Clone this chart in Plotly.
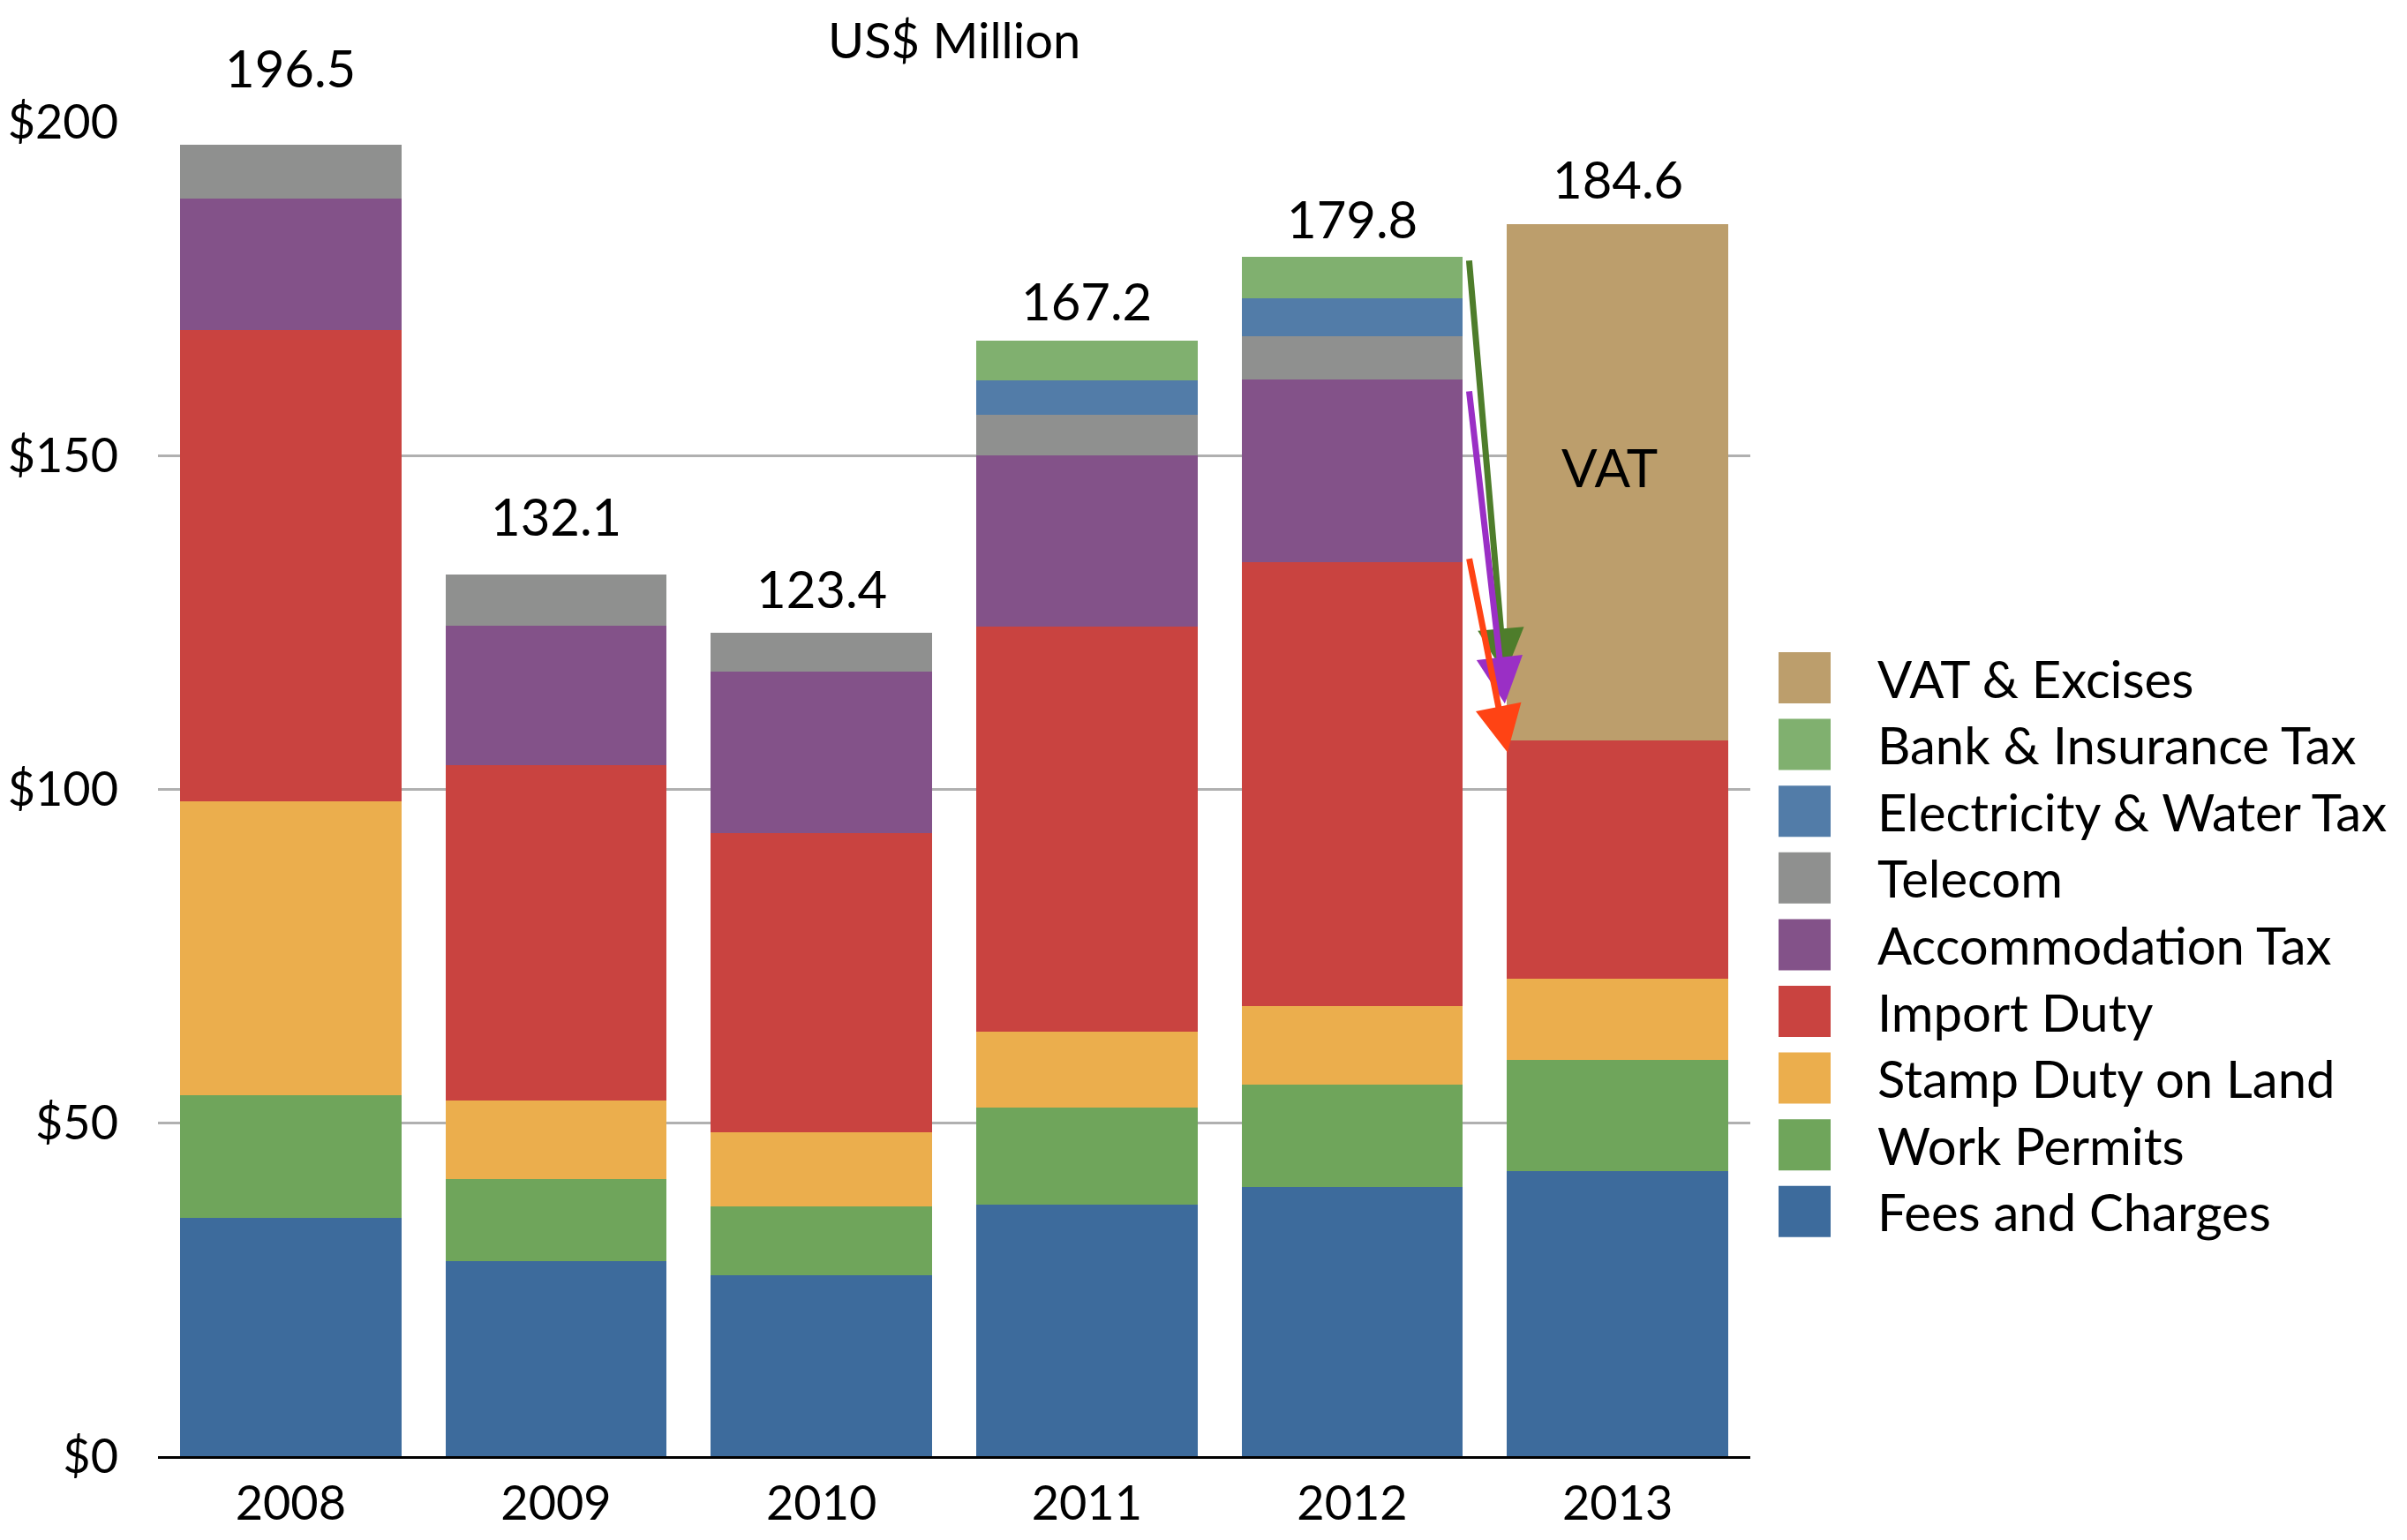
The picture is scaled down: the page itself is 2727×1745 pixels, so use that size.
import plotly.graph_objects as go

# ---------------- data ----------------
years = ["2008", "2009", "2010", "2011", "2012", "2013"]

fees_and_charges = [35.7, 29.2, 27.1, 37.7, 40.3, 42.7]
work_permits     = [18.4, 12.4, 10.3, 14.5, 15.4, 16.7]
stamp_duty_land  = [44.0, 11.7, 11.1, 11.4, 11.8, 12.2]
import_duty      = [70.7, 50.3, 44.9, 60.7, 66.5, 35.7]
accommodation    = [19.7, 20.9, 24.2, 25.7, 27.4, 0]
telecom          = [8.0, 7.6, 5.8, 6.1, 6.5, 0]
electricity_water = [0, 0, 0, 5.2, 5.7, 0]
bank_insurance   = [0, 0, 0, 5.9, 6.2, 0]
vat_excises      = [0, 0, 0, 0, 0, 77.3]

total_labels = ["196.5", "132.1", "123.4", "167.2", "179.8", "184.6"]

y_tick_values = [0, 50, 100, 150, 200]
y_tick_labels = ["$0", "$50", "$100", "$150", "$200"]

# stack order bottom -> top
series_names = ["Fees and Charges", "Work Permits", "Stamp Duty on Land", "Import Duty",
                "Accommodation Tax", "Telecom", "Electricity & Water Tax",
                "Bank & Insurance Tax", "VAT & Excises"]
series_values = [fees_and_charges, work_permits, stamp_duty_land, import_duty,
                 accommodation, telecom, electricity_water, bank_insurance, vat_excises]
series_colors = ["#3d6b9c", "#6fa55b", "#ebae4d", "#c94340", "#835289",
                 "#8f908f", "#527ca8", "#80b06f", "#bc9e6c"]

# ---------------- geometry (page pixels; body margin of 8px compensated) ----------------
FONT = "Lato"
PAGE_W, PAGE_H = 2727, 1745
OFF = 8
W, H = PAGE_W - 2 * OFF, PAGE_H - 2 * OFF
PLOT_L, PLOT_R, PLOT_T, PLOT_B = 179, 1983, 138, 1650   # page pixels
ML = PLOT_L - OFF
MT = PLOT_T - OFF
MR = W - (PLOT_R - OFF)
MB = H - (PLOT_B - OFF)


def px_to_paper_x(px):
    return (px - PLOT_L) / (PLOT_R - PLOT_L)


def px_to_paper_y(py):
    return (PLOT_B - py) / (PLOT_B - PLOT_T)


fig = go.Figure()
for name, vals, col in zip(series_names, series_values, series_colors):
    fig.add_trace(go.Bar(
        x=years, y=vals, name=name,
        marker=dict(color=col, line=dict(width=0)),
        showlegend=False,
    ))

totals = [sum(v[i] for v in series_values) for i in range(len(years))]

annotations = []
# total labels above bars (per-label lift in pixels, as in the original layout)
label_lift = [88, 67, 51, 45, 43, 52]
for i, (tot, lab) in enumerate(zip(totals, total_labels)):
    annotations.append(dict(x=i, y=tot, xref="x", yref="y", text=lab, showarrow=False,
                            yshift=label_lift[i], yanchor="middle",
                            font=dict(family=FONT, size=58, color="black")))

# VAT label inside the VAT segment
base_2013 = totals[5] - vat_excises[5]
annotations.append(dict(x=5, y=base_2013 + vat_excises[5] * 0.53, xref="x", yref="y",
                        text="VAT", showarrow=False, xshift=-9, yanchor="middle",
                        font=dict(family=FONT, size=60, color="black")))

# title
annotations.append(dict(x=0.5, y=px_to_paper_y(44), xref="paper", yref="paper",
                        text="US$ Million", showarrow=False, yanchor="middle",
                        font=dict(family=FONT, size=56, color="black")))

# arrows from 2012 segments into the 2013 VAT block
cum_2012 = []
acc = 0
for v in series_values:
    acc += v[4]
    cum_2012.append(acc)
arrow_specs = [
    (cum_2012[7] - 0.4, base_2013 + 9.8, "#4e7d2b", 4.575),   # bank/electricity/telecom
    (cum_2012[4] - 1.6, base_2013 + 5.5, "#9a2fc5", 4.575),   # accommodation
    (cum_2012[3] + 0.7, base_2013 - 1.8, "#ff4314", 4.585),   # import duty
]
for y0, y1, col, xt in arrow_specs:
    annotations.append(dict(x=xt, y=y1, ax=4.44, ay=y0, xref="x", yref="y",
                            axref="x", ayref="y", text="", showarrow=True,
                            arrowhead=2, arrowsize=1.5, arrowwidth=7, arrowcolor=col))

# custom legend (top: VAT, bottom: Fees)
shapes = []
row0 = 768
row_step = 75.6
for k, (name, col) in enumerate(zip(series_names[::-1], series_colors[::-1])):
    cy = row0 + k * row_step
    shapes.append(dict(type="rect", xref="paper", yref="paper",
                       x0=px_to_paper_x(2015), x1=px_to_paper_x(2074),
                       y0=px_to_paper_y(cy + 29), y1=px_to_paper_y(cy - 29),
                       fillcolor=col, line=dict(width=0)))
    annotations.append(dict(x=px_to_paper_x(2125), y=px_to_paper_y(cy), xref="paper",
                            yref="paper", text=name, showarrow=False,
                            xanchor="left", yanchor="middle",
                            font=dict(family=FONT, size=58, color="black")))

fig.update_layout(
    width=W, height=H,
    margin=dict(l=ML, r=MR, t=MT, b=MB, autoexpand=False),
    paper_bgcolor="white", plot_bgcolor="white",
    barmode="stack", bargap=0.167,
    font=dict(family=FONT, size=56, color="black"),
    annotations=annotations, shapes=shapes,
    xaxis=dict(type="category", showline=True, linecolor="black", linewidth=3, ticks="",
               tickfont=dict(family=FONT, size=54, color="black"),
               ticklabelstandoff=4, showgrid=False),
    yaxis=dict(range=[0, 200], tickvals=y_tick_values, ticktext=y_tick_labels,
               showgrid=True, gridcolor="#b0b0b0", gridwidth=2.5, zeroline=False,
               showline=False, ticks="", ticklabelstandoff=44,
               tickfont=dict(family=FONT, size=54, color="black")),
)

fig.write_html("out.html")
